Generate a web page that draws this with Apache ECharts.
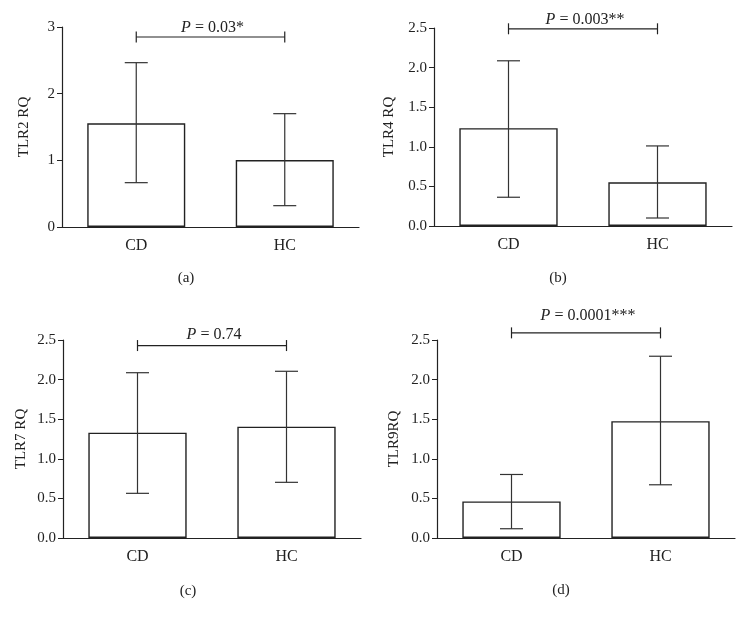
<!DOCTYPE html>
<html>
<head>
<meta charset="utf-8">
<script src="https://cdn.jsdelivr.net/npm/echarts@6/dist/echarts.min.js"></script>
<style>html,body{margin:0;padding:0;background:#fff}#c{width:746px;height:622px}</style>
</head>
<body>
<div id="c"></div>
<script>
const categories = ['CD', 'HC'];
const panelLabels = ['(a)', '(b)', '(c)', '(d)'];
const yNames = ['TLR2 RQ', 'TLR4 RQ', 'TLR7 RQ', 'TLR9RQ'];
const yMax = [3, 2.5, 2.5, 2.5];
const yInterval = [1, 0.5, 0.5, 0.5];
const meanA = [1.555, 1.005];
const lowA = [0.665, 0.32];
const highA = [2.465, 1.70];
const meanB = [1.235, 0.552];
const lowB = [0.363, 0.101];
const highB = [2.086, 1.011];
const meanC = [1.33, 1.405];
const lowC = [0.564, 0.703];
const highC = [2.087, 2.105];
const meanD = [0.462, 1.475];
const lowD = [0.117, 0.672];
const highD = [0.802, 2.295];
const pText = ['0.03', '0.003', '0.74', '0.0001'];
const pStars = ['*', '**', '', '***'];
const bracketY = [2.85, 2.49, 2.43, 2.59];

const means = [meanA, meanB, meanC, meanD];
const lows = [lowA, lowB, lowC, lowD];
const highs = [highA, highB, highC, highD];

const grids = [
  {left: 62, top: 27, width: 297, height: 200},
  {left: 434, top: 28, width: 298, height: 198},
  {left: 63, top: 340, width: 298, height: 198},
  {left: 437, top: 340, width: 298, height: 198}
];
const nameGaps = [30, 37, 34, 35];
const textOffsets = [9, 9, 11, 17];
const labelPos = [[181, 273], [553, 273], [183, 586], [556, 585]];
const FONT = '"Liberation Serif", "Times New Roman", serif';
const INK = '#222';

const xAxis = [], yAxis = [], series = [], titles = [];
for (let i = 0; i < 4; i++) {
  xAxis.push({
    type: 'category', gridIndex: i, data: categories,
    axisLine: {lineStyle: {color: INK, width: 1.2}},
    axisTick: {alignWithLabel: true, length: 5, lineStyle: {color: INK}},
    axisLabel: {color: INK, fontFamily: FONT, fontSize: 16, margin: 11}
  });
  yAxis.push({
    type: 'value', gridIndex: i, min: 0, max: yMax[i], interval: yInterval[i],
    name: yNames[i], nameLocation: 'middle', nameGap: nameGaps[i],
    nameTextStyle: {color: INK, fontFamily: FONT, fontSize: 15},
    axisLine: {show: true, lineStyle: {color: INK, width: 1.2}},
    axisTick: {show: true, length: 5, lineStyle: {color: INK}},
    splitLine: {show: false},
    axisLabel: {color: INK, fontFamily: FONT, fontSize: 15, margin: 7,
      formatter: v => yInterval[i] < 1 ? v.toFixed(1) : String(v)}
  });
  series.push({
    type: 'bar', xAxisIndex: i, yAxisIndex: i, data: means[i], barWidth: '66%',
    itemStyle: {color: '#fff', borderColor: INK, borderWidth: 1.4},
    silent: true, z: 2
  });
  const errData = categories.map((c, k) => [k, lows[i][k], highs[i][k]]);
  series.push({
    type: 'custom', xAxisIndex: i, yAxisIndex: i, data: errData, z: 3, silent: true,
    renderItem: (params, api) => {
      const x = api.coord([api.value(0), 0])[0];
      const yl = api.coord([api.value(0), api.value(1)])[1];
      const yh = api.coord([api.value(0), api.value(2)])[1];
      const hw = 11.5;
      const st = {stroke: '#333', lineWidth: 1.2};
      return {type: 'group', children: [
        {type: 'line', shape: {x1: x, y1: yl, x2: x, y2: yh}, style: st},
        {type: 'line', shape: {x1: x - hw, y1: yh, x2: x + hw, y2: yh}, style: st},
        {type: 'line', shape: {x1: x - hw, y1: yl, x2: x + hw, y2: yl}, style: st}
      ]};
    }
  });
  series.push({
    type: 'custom', xAxisIndex: i, yAxisIndex: i, data: [[0, 1, bracketY[i]]], z: 4, silent: true, clip: false,
    renderItem: (params, api) => {
      const x1 = api.coord([0, 0])[0];
      const x2 = api.coord([1, 0])[0];
      const y = api.coord([0, api.value(2)])[1];
      const st = {stroke: '#222', lineWidth: 1.2};
      return {type: 'group', children: [
        {type: 'line', shape: {x1: x1, y1: y, x2: x2, y2: y}, style: st},
        {type: 'line', shape: {x1: x1, y1: y - 5.5, x2: x1, y2: y + 5.5}, style: st},
        {type: 'line', shape: {x1: x2, y1: y - 5.5, x2: x2, y2: y + 5.5}, style: st},
        {type: 'text', x: (x1 + x2) / 2 + 2, y: y - textOffsets[i], style: {
          text: '{i|P} = ' + pText[i] + (pStars[i] ? '{s|' + pStars[i] + '}' : ''),
          align: 'center', verticalAlign: 'middle',
          fill: INK, fontFamily: FONT, fontSize: 16,
          rich: {
            i: {fontStyle: 'italic', fontFamily: FONT, fontSize: 16, fill: INK},
            s: {fontFamily: FONT, fontSize: 16, fill: INK, verticalAlign: 'top'}
          }
        }}
      ]};
    }
  });
  titles.push({
    text: panelLabels[i], left: labelPos[i][0], top: labelPos[i][1],
    textAlign: 'center', textVerticalAlign: 'middle',
    textStyle: {color: INK, fontFamily: FONT, fontSize: 15, fontWeight: 'normal'}
  });
}

const chart = echarts.init(document.getElementById('c'), null, {renderer: 'canvas'});
chart.setOption({
  animation: false,
  backgroundColor: '#fff',
  title: titles,
  grid: grids,
  xAxis: xAxis,
  yAxis: yAxis,
  series: series
});
</script>
</body>
</html>
